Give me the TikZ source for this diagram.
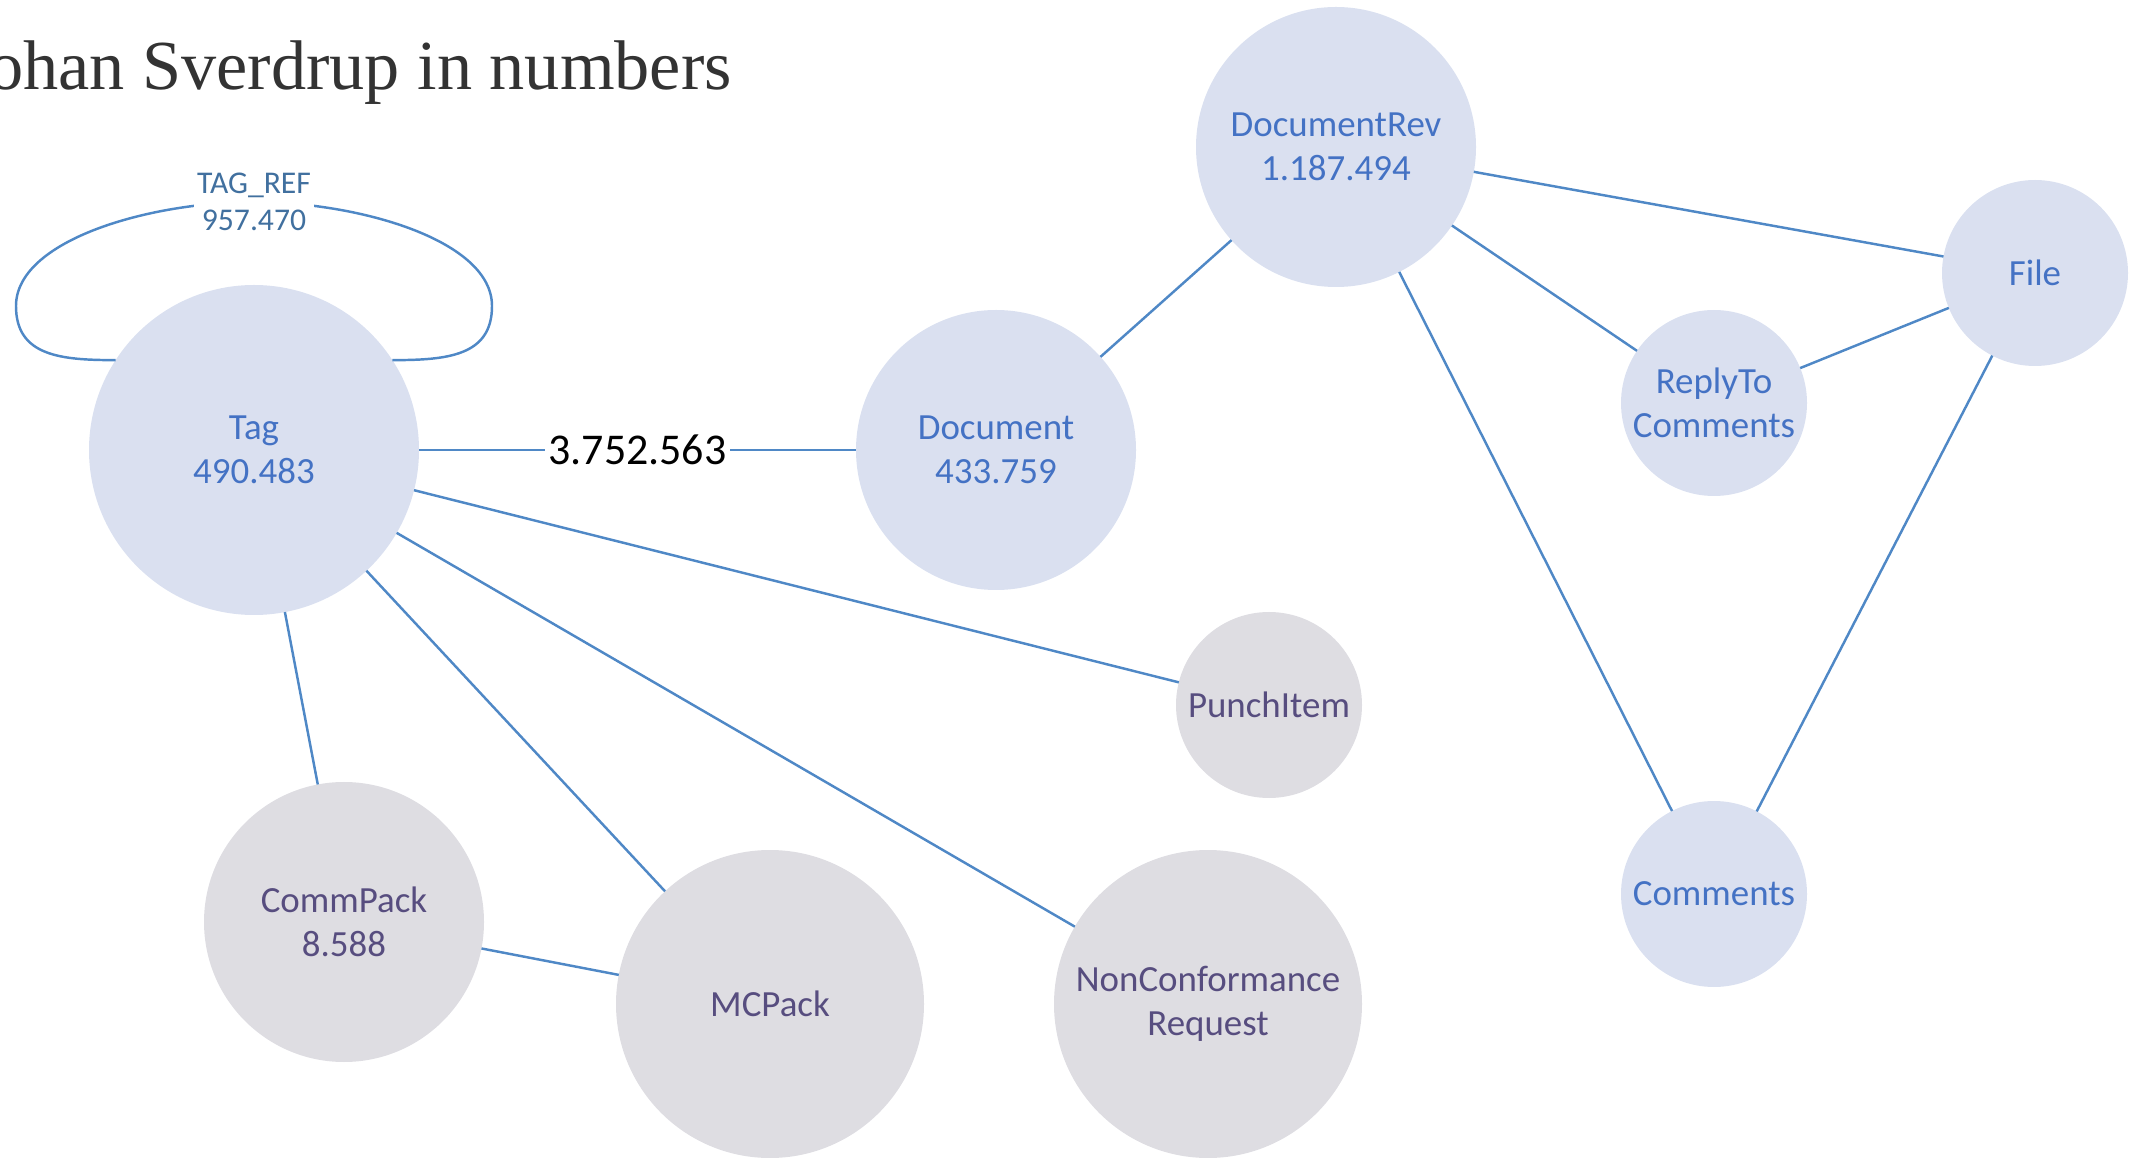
\documentclass[tikz,border=0pt]{standalone}
\usepackage{fontspec}
\setmainfont{Carlito}
\newfontfamily\titlefont{Liberation Serif}
\definecolor{nodeblue}{HTML}{DAE0F0}
\definecolor{nodegrey}{HTML}{DEDDE2}
\definecolor{textblue}{HTML}{4472C4}
\definecolor{textgrey}{HTML}{574D7F}
\definecolor{linkblue}{HTML}{4F88C6}
\definecolor{refblue}{HTML}{41709F}
\definecolor{titlegrey}{HTML}{333333}
\tikzset{
    entity/.style={circle,fill=nodeblue,text=textblue,align=center,
        inner sep=0pt,outer sep=0pt,font=\fontsize{10.5}{12.5}\selectfont},
    other/.style={entity,fill=nodegrey,text=textgrey},
    link/.style={draw=linkblue,line width=0.7pt},
    count/.style={fill=white,inner sep=1pt,font=\fontsize{12.5}{15}\selectfont}
}

\begin{document}
\begin{tikzpicture}
  \useasboundingbox (0,0) rectangle (21.33,11.57);
  % Title
  \node[anchor=base west,inner sep=0pt,text=titlegrey,
        font=\titlefont\fontsize{20}{24}\selectfont] (title)
        at (-0.40,10.67) {Johan Sverdrup in numbers};
  % Draw tables
  \node[entity,minimum size=3.30cm] (tag)      at (2.54,7.07)  {Tag\\490.483};
  \node[entity,minimum size=2.80cm] (document) at (9.96,7.07)  {Document\\433.759};
  \node[entity,minimum size=2.80cm] (docrev)   at (13.36,10.10) {DocumentRev\\1.187.494};
  \node[entity,minimum size=1.86cm] (file)     at (20.35,8.84) {File};
  \node[entity,minimum size=1.86cm] (reply)    at (17.14,7.54) {ReplyTo\\Comments};
  \node[entity,minimum size=1.86cm] (comments) at (17.14,2.63) {Comments};
  \node[other,minimum size=1.86cm]  (punch)    at (12.69,4.52) {PunchItem};
  \node[other,minimum size=2.80cm]  (commpack) at (3.44,2.35)  {CommPack\\8.588};
  \node[other,minimum size=3.08cm]  (mcpack)   at (7.70,1.53)  {MCPack};
  \node[other,minimum size=3.08cm]  (nonconf)  at (12.08,1.53) {NonConformance\\Request};
  % Draw self reference
  \coordinate (loopL) at (0.16,8.51);
  \coordinate (loopT) at (2.54,9.55);
  \coordinate (loopR) at (4.92,8.51);
  \draw[link] (tag.147) .. controls +(-0.55,0) and +(0,-0.5) .. (loopL)
        .. controls +(0,0.66) and +(-1.04,0) .. (loopT)
        node[fill=white,inner sep=1pt,align=center,text=refblue,
             font=\fontsize{9}{10.5}\selectfont] (tagref) {TAG\_REF\\957.470}
        .. controls +(1.04,0) and +(0,0.66) .. (loopR)
        .. controls +(0,-0.5) and +(0.55,0) .. (tag.33);
  % Draw links
  \draw[link] (tag) -- node[count] (tagdoc) {3.752.563} (document);
  \draw[link] (tag) -- (punch);
  \draw[link] (tag) -- (nonconf);
  \draw[link] (tag) -- (mcpack);
  \draw[link] (tag) -- (commpack);
  \draw[link] (commpack) -- (mcpack);
  \draw[link] (document) -- (docrev);
  \draw[link] (docrev) -- (file);
  \draw[link] (docrev) -- (reply);
  \draw[link] (docrev) -- (comments);
  \draw[link] (reply) -- (file);
  \draw[link] (file) -- (comments);
\end{tikzpicture}
\end{document}
